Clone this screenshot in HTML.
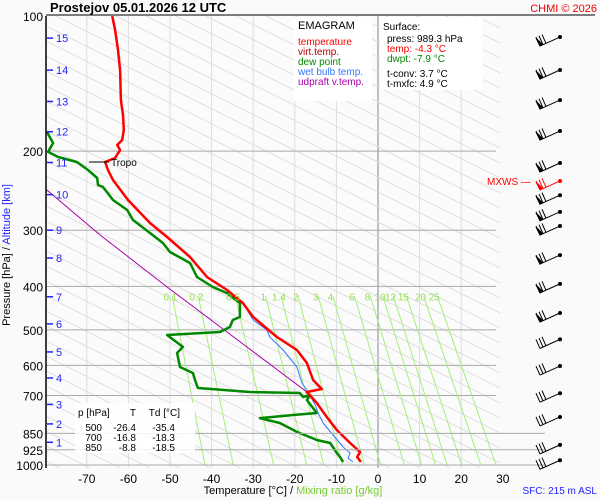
<!DOCTYPE html>
<html><head><meta charset="utf-8"><style>
html,body{margin:0;padding:0;width:600px;height:500px;overflow:hidden;background:#fafafa;}
svg{display:block;font-family:"Liberation Sans",sans-serif;}
</style></head><body>
<svg id="c" width="600" height="500" viewBox="0 0 600 500">
<defs><clipPath id="pc"><rect x="46" y="16" width="454" height="452"/></clipPath></defs>
<rect x="46" y="16" width="454" height="452" fill="#fbfbfb"/>
<g id="grid" clip-path="url(#pc)"></g>
<g id="series" clip-path="url(#pc)"></g>
<g id="axes"></g>
<text x="50" y="12" font-size="13" font-weight="bold">Prostejov   05.01.2026 12 UTC</text>
<text x="597" y="12" font-size="11" fill="#e00" text-anchor="end">CHMI © 2026</text>
<line x1="46" y1="15" x2="595" y2="15" stroke="#000" stroke-width="1"/>
<g>
<rect x="294" y="17" width="78" height="84" fill="#fff"/>
<text x="298" y="29" font-size="11">EMAGRAM</text>
<text x="298" y="45" font-size="10" fill="#f00">temperature</text>
<text x="298" y="55" font-size="10" fill="#a00">virt.temp.</text>
<text x="298" y="65" font-size="10" fill="#080">dew point</text>
<text x="298" y="75" font-size="10" fill="#37f">wet bulb temp.</text>
<text x="298" y="85" font-size="10" fill="#a0a">udpraft v.temp.</text>
</g>
<g>
<rect x="380" y="17" width="103" height="73" fill="#fff"/>
<text x="383" y="30" font-size="10">Surface:</text>
<text x="387" y="42" font-size="10">press: 989.3 hPa</text>
<text x="387" y="52" font-size="10" fill="#f00">temp: -4.3 °C</text>
<text x="387" y="62" font-size="10" fill="#080">dwpt: -7.9 °C</text>
<text x="387" y="77" font-size="10">t-conv: 3.7 °C</text>
<text x="387" y="87" font-size="10">t-mxfc: 4.9 °C</text>
</g>
<g id="barbs"></g>
<text x="10" y="255" font-size="11" transform="rotate(-90 10 255)" text-anchor="middle"><tspan>Pressure [hPa]  /  </tspan><tspan fill="#22f">Altitude [km]</tspan></text>
<text x="293" y="494" font-size="11" text-anchor="middle"><tspan>Temperature [°C]  /  </tspan><tspan fill="#7c3">Mixing ratio [g/kg]</tspan></text>
<text x="597" y="494" font-size="10" fill="#22f" text-anchor="end">SFC: 215 m ASL</text>
</svg>
<script>
const tempTicks=[-70,-60,-50,-40,-30,-20,-10,0,10,20,30];
const presTicks=[100,200,300,400,500,600,700,850,925,1000];
const altKm=[15,14,13,12,11,10,9,8,7,6,5,4,3,2,1];
const altP=[112,132,155,181,212,250,300,346,422,485,560,640,733,810,890];
const mixRatios=[0.1,0.2,0.5,1,1.4,2,3,4,6,8,10,12,15,20,25];
const tempP=[100,107.4,119,131.9,153.9,166.2,179.4,188.9,193.8,198.8,207.1,211.4,220.3,231.9,256.9,289.1,310.6,344.2,381.3,407.6,435.7,468.1,518.7,554.5,592.6,646.7,677.3,687.6,727.8,781.7,835.6,893.5,935.6,960,984.7];
const tempT=[-63.9,-63.2,-62.5,-62.0,-61.8,-61.3,-61.1,-61.5,-62.7,-62.0,-63.2,-65.6,-64.9,-63.7,-60.1,-54.8,-50.7,-45.2,-41.1,-36.3,-32.5,-30.0,-24.3,-19.5,-17.1,-15.6,-13.5,-17.1,-14.7,-12.3,-9.9,-6.7,-4.3,-5.0,-4.1];
const dewP=[181.3,191.8,200.8,206.1,211.4,220.3,229.5,237.9,240.3,256.9,270.4,284.7,304.3,320.3,335.4,354.9,381.3,401.4,414.1,435.7,468.1,475.4,492.8,505.6,513.4,545.8,563,605,624,646.7,673.9,687.6,691.1,705.7,698.6,716.4,766,773.7,786.1,806.2,844,879.5,893.5,940.3,960,984.7];
const dewT=[-79.6,-78.1,-79.3,-76.9,-72.4,-69.7,-67.5,-67.3,-66.1,-63.7,-60.3,-58.9,-54.8,-51.7,-50.0,-45.2,-43.5,-39.7,-36.3,-33.2,-33.2,-34.9,-35.6,-38.0,-50.7,-46.9,-48.3,-47.6,-44.5,-44.0,-43.3,-30.8,-18.8,-18.0,-16.3,-17.1,-14.7,-20.4,-28.4,-23.6,-19.5,-14.7,-11.5,-9.9,-9.1,-8.4];
const wbP=[435.7,475.4,500.3,518.6,554.5,605,656.5,687.6,735.2,766,806.2,857.5,911.6,940.3,965,984.7];
const wbT=[-32.5,-30.0,-26.7,-26.0,-22.8,-19.5,-18.3,-16.8,-15.1,-14.4,-13.2,-10.8,-8.4,-6.7,-7.2,-6.0];
const updP=[244.1,307.5,401.4,505.6,687.6];
const updT=[-79.6,-66.8,-50.7,-36.3,-17.1];
const barbP=[111.4,131.9,153.9,180.4,212.5,233,250.7,273,293.6,340.8,395,458.6,525.1,602,692,781.7,902,976];
const mxwsP=233;

const NS="http://www.w3.org/2000/svg";
const X=t=>378+t*4.16;
const Y=p=>16+195*Math.log(p/100);
function mk(tag,attrs,parent){const e=document.createElementNS(NS,tag);for(const k in attrs)e.setAttribute(k,attrs[k]);parent.appendChild(e);return e;}
const grid=document.getElementById('grid'),axes=document.getElementById('axes'),ser=document.getElementById('series'),barbs=document.getElementById('barbs');

for(let t=-80;t<=40;t+=10){
 const l=mk('line',{x1:X(t),y1:16,x2:X(t),y2:468,stroke:t===0?'#999':'#ddd','stroke-width':t===0?1.2:1},grid);
 
 
}
// straight guide lines slope 0.5, clipped analytically to plot box
for(let c=-440;c<=452;c+=15){
 let xa=46,ya=16+c;
 if(ya<16){xa=46+(16-ya)*2;ya=16;}
 let xb=500,yb=16+c+227;
 if(yb>468){xb=500-(yb-468)*2;yb=468;}
 if(xa>=xb)continue;
 const l=mk('line',{x1:xa,y1:ya,x2:xb,y2:yb,stroke:'#dcdcdc','stroke-width':0.8},grid);
 
 
}
presTicks.forEach(p=>{
 if(p===100)return;
 const x2=p>=850?545:496;
 const l=mk('line',{x1:46,y1:Y(p),x2:x2,y2:Y(p),stroke:'#aaa','stroke-width':1},p>=850?axes:grid);
 
 
});
function tdOf(w,p){const e=w*p/(622+w);const a=Math.log(e/6.112);return 243.5*a/(17.67-a);}
mixRatios.forEach(w=>{
 const l=mk('line',{x1:X(tdOf(w,420)),y1:Y(420),x2:X(tdOf(w,1000)),y2:Y(1000),stroke:'#a6ee7a','stroke-width':1},grid);
 
 
 const tx=mk('text',{x:X(tdOf(w,400)),y:Y(400)+14,'font-size':10,fill:'#9d5','text-anchor':'middle'},axes);
 tx.textContent=w;
 
 
});
function series(P,T,color,w,name){
 let d='';P.forEach((p,i)=>{d+=(i?'L':'M')+X(T[i]).toFixed(1)+','+Y(p).toFixed(1);});
 const s=mk('path',{d:d,fill:'none',stroke:color,'stroke-width':w,'stroke-linejoin':'round'},ser);
 
 
}
series(updP,updT,'#a0a',1,'updraft-line');
series(dewP,dewT,'#080',2.5,'dew-point-line');
series(wbP,wbT,'#37f',1,'wet-bulb-line');
series(tempP,tempT,'#f00',2.5,'temperature-line');

mk('line',{x1:46,y1:16,x2:46,y2:468,stroke:'#000','stroke-width':1.5},axes);
presTicks.forEach(p=>{
 const t=mk('text',{x:43,y:Y(p)+5,'font-size':12,'text-anchor':'end'},axes);
 t.textContent=p;
 
 
});
tempTicks.forEach(v=>{
 const t=mk('text',{x:X(v),y:483,'font-size':12,'text-anchor':'middle'},axes);
 t.textContent=v;
 
 
});
altKm.forEach((k,i)=>{
 const y=Y(altP[i]);
 mk('line',{x1:47,y1:y,x2:53,y2:y,stroke:'#22f','stroke-width':1.5},axes);
 const t=mk('text',{x:56,y:y+4,'font-size':11,fill:'#22f'},axes);
 t.textContent=k;
 
 
});
const tb=mk('g',{},axes);


mk('rect',{x:75,y:403,width:120,height:50,fill:'#fff',opacity:0.85},tb);
[['p [hPa]',78,'start'],['T',136,'end'],['Td [°C]',180,'end']].forEach(h=>{const t=mk('text',{x:h[1],y:416,'font-size':10,'text-anchor':h[2]},tb);t.textContent=h[0];});
[['500','-26.4','-35.4'],['700','-16.8','-18.3'],['850','-8.8','-18.5']].forEach((r,i)=>{
 [[r[0],102],[r[1],136],[r[2],175]].forEach(c=>{const t=mk('text',{x:c[1],y:431+i*10,'font-size':10,'text-anchor':'end'},tb);t.textContent=c[0];});
});
const tl=mk('line',{x1:89,y1:162,x2:109,y2:162,stroke:'#000'},axes);


const tt=mk('text',{x:111,y:166,'font-size':10},axes);
tt.textContent='Tropo';


const mx=mk('text',{x:487,y:Y(mxwsP)+4,'font-size':10,fill:'#f00'},axes);
mx.textContent='MXWS —';



barbP.forEach((p,i)=>{
 const y=Y(p);const red=(p===mxwsP);const c=red?'#f00':'#000';
 const g=mk('g',{stroke:c,'stroke-width':1,fill:c},barbs);
 
 
 const bx=540,by=y+9;
 mk('line',{x1:560,y1:y,x2:bx,y2:by},g);
 mk('circle',{cx:560,cy:y,r:1.5},g);
 for(let j=0;j<3;j++){const sx=bx+j*3,sy=by-j*1.3;mk('line',{x1:sx,y1:sy,x2:sx-4,y2:sy-9},g);}
 if(i<12)mk('path',{d:`M${bx},${by} l-4,-8 l6,6z`},g);
});
</script>
</body></html>
